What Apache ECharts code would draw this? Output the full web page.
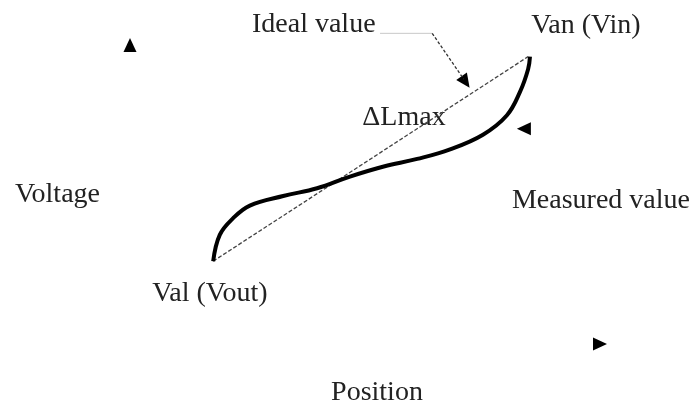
<!DOCTYPE html>
<html>
<head>
<meta charset="utf-8">
<script src="https://cdn.jsdelivr.net/npm/echarts@6/dist/echarts.min.js"></script>
<style>
    html, body { margin: 0; padding: 0; background: #fff; }
    #chart { width: 695px; height: 412px; }
</style>
</head>
<body>
<div id="chart"></div>
<script>
    // ideal value: straight line between the two end points
    var idealX = [17.7, 84.7];
    var idealY = [27.7, 96.1];

    // measured value: S-shaped curve
    var measuredX = [17.7, 19.1, 21.9, 25.5, 32.6, 39.8, 46.8, 53.8, 61.1, 68.1, 75.1, 80.2, 83.0, 84.7, 85.1];
    var measuredY = [27.7, 36.5, 42.0, 46.3, 49.5, 52.1, 56.0, 59.3, 61.9, 65.1, 70.0, 76.5, 84.4, 91.9, 96.1];

    // leader for "Ideal value": gray run, then dashed pointer
    var leaderRunX = [53.2, 64.3];
    var leaderRunY = [103.9, 103.9];
    var leaderPtrX = [64.3, 71.0];
    var leaderPtrY = [103.9, 88.6];

    // arrow heads: two axis ends, ideal pointer, measured pointer
    var arrowX = [0, 100, 71.4, 83.8];
    var arrowY = [100, 0, 87.6, 72.0];
    var arrowTurn = [0, -90, -145, 90];

    // text labels
    var labelText = ['Ideal value', 'Van (Vin)', 'Val (Vout)', '\u0394Lmax', 'Measured value'];
    var labelX = [39.1, 97.0, 17.0, 58.3, 100.2];
    var labelY = [106.8, 106.5, 16.9, 75.6, 47.9];

    var font = 'Liberation Serif';

    function pairs(xs, ys) {
        var out = [];
        for (var i = 0; i < xs.length; i++) out.push([xs[i], ys[i]]);
        return out;
    }

    var labelData = [];
    for (var i = 0; i < labelText.length; i++) {
        labelData.push({ name: labelText[i], value: [labelX[i], labelY[i]] });
    }

    var arrowData = [];
    for (var j = 0; j < arrowX.length; j++) {
        arrowData.push({ value: [arrowX[j], arrowY[j]], symbolRotate: arrowTurn[j] });
    }

    var chart = echarts.init(document.getElementById('chart'));

    var options = {
        animation: false,
        grid: { left: 130, right: 95, top: 45, bottom: 60 },
        xAxis: {
            type: 'value',
            min: 0,
            max: 100,
            name: 'Position',
            nameLocation: 'middle',
            nameGap: 35,
            nameTextStyle: { fontFamily: font, fontSize: 28, color: '#222', padding: [0, 0, 0, 24] },
            axisLine: { show: false },
            axisTick: { show: false },
            axisLabel: { show: false },
            splitLine: { show: false }
        },
        yAxis: {
            type: 'value',
            min: 0,
            max: 100,
            name: 'Voltage',
            nameLocation: 'middle',
            nameRotate: 0,
            nameGap: 30,
            nameTextStyle: { fontFamily: font, fontSize: 28, color: '#222' },
            axisLine: { show: false },
            axisTick: { show: false },
            axisLabel: { show: false },
            splitLine: { show: false }
        },
        series: [
            {
                name: 'ideal',
                type: 'line',
                data: pairs(idealX, idealY),
                symbol: 'none',
                clip: false,
                lineStyle: { color: '#444', width: 1.3, type: [4, 2] }
            },
            {
                name: 'leaderRun',
                type: 'line',
                data: pairs(leaderRunX, leaderRunY),
                symbol: 'none',
                clip: false,
                lineStyle: { color: '#c8c8c8', width: 1 }
            },
            {
                name: 'leaderPtr',
                type: 'line',
                data: pairs(leaderPtrX, leaderPtrY),
                symbol: 'none',
                clip: false,
                lineStyle: { color: '#333', width: 1.3, type: [3, 2] }
            },
            {
                name: 'measured',
                type: 'line',
                data: pairs(measuredX, measuredY),
                symbol: 'none',
                smooth: 0.4,
                clip: false,
                lineStyle: { color: '#000', width: 4 }
            },
            {
                name: 'arrows',
                type: 'scatter',
                clip: false,
                symbol: 'triangle',
                symbolSize: [13, 14],
                itemStyle: { color: '#000', opacity: 1 },
                data: arrowData
            },
            {
                name: 'labels',
                type: 'scatter',
                clip: false,
                symbolSize: 0,
                itemStyle: { opacity: 1 },
                data: labelData,
                label: {
                    show: true,
                    position: 'inside',
                    formatter: '{b}',
                    fontFamily: font,
                    fontSize: 28,
                    color: '#222',
                    opacity: 1,
                    textBorderWidth: 0
                }
            }
        ]
    };

    chart.setOption(options);
</script>
</body>
</html>
